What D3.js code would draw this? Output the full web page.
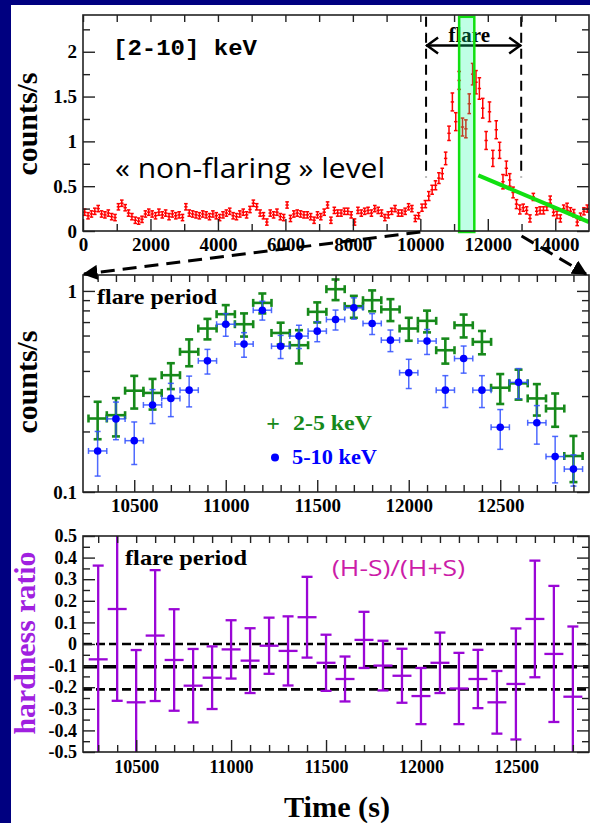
<!DOCTYPE html>
<html><head><meta charset="utf-8">
<script src="https://cdn.jsdelivr.net/npm/d3@7"></script>
<style>
html,body{margin:0;padding:0;background:#000080;}
svg{display:block;}
</style></head><body>
<svg id="c" width="590" height="823"></svg>
<script>
// ---------------- DATA ----------------
// Top panel: [2-10] keV light curve, 100 s bins starting at 0 s
const topBinStart = 0;
const topBinWidth = 100;
const topRate = [
  0.21,0.17,0.19,0.22,0.25,0.19,0.18,0.20,0.16,0.15,
  0.27,0.31,0.26,0.20,0.16,0.12,0.11,0.13,0.19,0.21,
  0.19,0.17,0.21,0.18,0.20,0.16,0.19,0.17,0.18,0.15,
  0.27,0.20,0.19,0.18,0.17,0.19,0.18,0.16,0.19,0.17,
  0.15,0.18,0.20,0.22,0.17,0.16,0.19,0.21,0.18,0.24,
  0.31,0.27,0.20,0.17,0.10,0.20,0.18,0.21,0.16,0.15,
  0.29,0.14,0.19,0.20,0.19,0.18,0.18,0.16,0.12,0.18,
  0.16,0.21,0.29,0.12,0.23,0.20,0.20,0.22,0.22,0.18,
  0.10,0.23,0.20,0.22,0.23,0.20,0.25,0.23,0.20,0.15,
  0.18,0.22,0.25,0.20,0.20,0.22,0.27,0.25,0.14,0.17,
  0.26,0.30,0.39,0.46,0.51,0.59,0.64,0.81,1.09,1.44,
  1.22,1.68,1.16,1.14,1.42,1.75,1.66,1.59,1.37,1.01,
  1.33,0.81,1.13,0.90,0.55,0.70,0.57,0.43,0.30,0.24,
  0.26,0.23,0.14,0.38,0.22,0.23,0.23,0.27,0.35,0.21,
  0.18,0.14,0.25,0.27,0.22,0.20,0.10,0.16,0.22,0.25
];
const topErr = [
  0.035,0.035,0.035,0.035,0.035,0.035,0.035,0.035,0.035,0.035,
  0.035,0.035,0.035,0.035,0.035,0.035,0.035,0.035,0.035,0.035,
  0.035,0.035,0.035,0.035,0.035,0.035,0.035,0.035,0.035,0.035,
  0.035,0.035,0.035,0.035,0.035,0.035,0.035,0.035,0.035,0.035,
  0.035,0.035,0.035,0.035,0.035,0.035,0.035,0.035,0.035,0.035,
  0.035,0.035,0.035,0.035,0.035,0.035,0.035,0.035,0.035,0.035,
  0.035,0.035,0.035,0.035,0.035,0.035,0.035,0.035,0.035,0.035,
  0.035,0.035,0.035,0.035,0.035,0.035,0.035,0.035,0.035,0.035,
  0.035,0.035,0.035,0.035,0.035,0.035,0.035,0.035,0.035,0.035,
  0.035,0.035,0.035,0.035,0.035,0.035,0.035,0.035,0.035,0.035,
  0.04,0.04,0.05,0.05,0.05,0.06,0.06,0.07,0.08,0.10,
  0.10,0.10,0.10,0.10,0.11,0.12,0.13,0.12,0.11,0.10,
  0.11,0.09,0.10,0.09,0.08,0.08,0.07,0.06,0.05,0.05,
  0.04,0.04,0.04,0.04,0.04,0.04,0.04,0.04,0.04,0.04,
  0.04,0.04,0.04,0.04,0.04,0.04,0.04,0.04,0.04,0.04
];
const topXTicks = [0,2000,4000,6000,8000,10000,12000,14000];
const topXMinor = [1000,3000,5000,7000,9000,11000,13000];
const topYTicks = [0,0.5,1,1.5,2];
const topYMinor = [0.25,0.75,1.25,1.75,2.25];
// annotations (data units)
const flareStart = 10170, flareEnd = 12990;
const boxStart = 11150, boxEnd = 11600;
const decayLine = [[11720,0.62],[15000,0.10]];

// Middle panel: flare period, two bands
const midTime = [10300,10400,10500,10600,10700,10800,10900,11000,11100,11200,11300,11400,11500,11600,11700,11800,11900,12000,12100,12200,12300,12400,12500,12600,12700,12800,12900];
const soft = [0.232,0.241,0.319,0.311,0.381,0.498,0.650,0.766,0.683,0.872,0.618,0.537,0.787,1.02,0.840,0.899,0.809,0.650,0.710,0.507,0.675,0.558,0.330,0.347,0.292,0.260,0.151];
const softErr = [0.049,0.052,0.059,0.054,0.056,0.076,0.076,0.084,0.090,0.099,0.077,0.101,0.090,0.120,0.105,0.107,0.101,0.085,0.088,0.072,0.088,0.074,0.056,0.059,0.052,0.049,0.039];
const hard = [0.160,0.231,0.180,0.271,0.292,0.321,0.449,0.683,0.544,0.802,0.531,0.596,0.631,0.721,0.824,0.689,0.569,0.392,0.563,0.321,0.461,0.321,0.210,0.351,0.221,0.150,0.130];
const hardErr = [0.040,0.049,0.043,0.052,0.055,0.056,0.063,0.088,0.076,0.086,0.070,0.079,0.072,0.082,0.100,0.082,0.070,0.065,0.080,0.058,0.071,0.058,0.047,0.060,0.048,0.039,0.023];
const midXTicks = [10500,11000,11500,12000,12500];
const midXMinor = [10300,10400,10600,10700,10800,10900,11100,11200,11300,11400,11600,11700,11800,11900,12100,12200,12300,12400,12600,12700,12800,12900];
const midYTicks = [0.1,1];
const midYMinor = [0.2,0.3,0.4,0.5,0.6,0.7,0.8,0.9];

// Bottom panel: hardness ratio
const hrTime = [10300,10400,10500,10600,10700,10800,10900,11000,11100,11200,11300,11400,11500,11600,11700,11800,11900,12000,12100,12200,12300,12400,12500,12600,12700,12800];
const hr = [-0.071,0.162,-0.270,0.039,-0.074,-0.193,-0.156,-0.025,-0.077,-0.008,-0.032,0.124,-0.087,-0.162,0.019,-0.100,-0.147,-0.241,-0.087,-0.206,-0.162,-0.270,-0.185,0.116,-0.046,-0.244];
const hrErr = [0.434,0.425,0.242,0.303,0.235,0.170,0.145,0.135,0.150,0.130,0.160,0.187,0.130,0.104,0.130,0.115,0.125,0.130,0.140,0.165,0.135,0.145,0.257,0.270,0.315,0.325];
const hrLevels = [0, -0.105, -0.21];
const botXTicks = [10500,11000,11500,12000,12500];
const botXMinor = [10300,10400,10600,10700,10800,10900,11100,11200,11300,11400,11600,11700,11800,11900,12100,12200,12300,12400,12600,12700,12800];
const botYTicks = [-0.5,-0.4,-0.3,-0.2,-0.1,0,0.1,0.2,0.3,0.4,0.5];
const botYMinor = [-0.45,-0.35,-0.25,-0.15,-0.05,0.05,0.15,0.25,0.35,0.45];

// ---------------- DRAW ----------------
const svg = d3.select("#c");
const SERIF = "'Liberation Serif','Times New Roman',serif";
svg.append("rect").attr("width",590).attr("height",823).attr("fill","#000080");
svg.append("rect").attr("x",11).attr("y",5).attr("width",579).attr("height",818).attr("fill","#ffffff");

const defs = svg.append("defs");
function clip(id, x0,y0,x1,y1){
  defs.append("clipPath").attr("id",id).append("rect")
    .attr("x",x0).attr("y",y0).attr("width",x1-x0).attr("height",y1-y0);
}
defs.append("marker").attr("id","ah").attr("viewBox","0 0 10 10")
  .attr("refX",9).attr("refY",5).attr("markerWidth",5).attr("markerHeight",5)
  .attr("markerUnits","strokeWidth").attr("orient","auto")
  .append("path").attr("d","M0,0 L10,5 L0,10 z").attr("fill","#000");

function axes(g, xs, ys, p, o){
  const styleAx = sel => {
    sel.select(".domain").remove();
    sel.selectAll(".tick line").attr("stroke","#222").attr("stroke-width",1.4);
    sel.selectAll(".tick text").attr("font-family",SERIF).attr("font-weight","bold")
      .attr("font-size",o.fs||19).attr("fill","#000");
  };
  const M=12, m=7;
  g.append("g").attr("transform",`translate(0,${p.y1})`)
    .call(d3.axisBottom(xs).tickValues(o.xT).tickSizeInner(-M).tickSizeOuter(0).tickPadding(o.xPad||7).tickFormat(o.xF)).call(styleAx);
  g.append("g").attr("transform",`translate(0,${p.y1})`)
    .call(d3.axisBottom(xs).tickValues(o.xm).tickSizeInner(-m).tickSizeOuter(0).tickFormat("")).call(styleAx);
  g.append("g").attr("transform",`translate(0,${p.y0})`)
    .call(d3.axisTop(xs).tickValues(o.xT.concat(o.xm)).tickSizeInner(-m).tickSizeOuter(0).tickFormat("")).call(styleAx);
  g.append("g").attr("transform",`translate(${p.x0},0)`)
    .call(d3.axisLeft(ys).tickValues(o.yT).tickSizeInner(-M).tickSizeOuter(0).tickPadding(6).tickFormat(o.yF)).call(styleAx);
  g.append("g").attr("transform",`translate(${p.x0},0)`)
    .call(d3.axisLeft(ys).tickValues(o.ym).tickSizeInner(-m).tickSizeOuter(0).tickFormat("")).call(styleAx);
  g.append("g").attr("transform",`translate(${p.x1},0)`)
    .call(d3.axisRight(ys).tickValues(o.yT).tickSizeInner(-M).tickSizeOuter(0).tickFormat("")).call(styleAx);
  g.append("g").attr("transform",`translate(${p.x1},0)`)
    .call(d3.axisRight(ys).tickValues(o.ym).tickSizeInner(-m).tickSizeOuter(0).tickFormat("")).call(styleAx);
  g.append("rect").attr("x",p.x0).attr("y",p.y0).attr("width",p.x1-p.x0).attr("height",p.y1-p.y0)
    .attr("fill","none").attr("stroke","#222").attr("stroke-width",1.6);
}

function errbars(g, data, xs, ys, st){
  const gg = g.selectAll(null).data(data).enter().append("g")
    .attr("stroke",st.color).attr("stroke-width",st.w).attr("stroke-opacity",st.op||1);
  gg.append("line").attr("x1",d=>xs(d.t)).attr("x2",d=>xs(d.t))
    .attr("y1",d=>ys(d.lo)).attr("y2",d=>ys(d.hi));
  gg.append("line").attr("x1",d=>xs(d.t-d.hw)).attr("x2",d=>xs(d.t+d.hw))
    .attr("y1",d=>ys(d.v)).attr("y2",d=>ys(d.v));
  if(st.cw){
    gg.append("line").attr("x1",d=>xs(d.t)-st.cw).attr("x2",d=>xs(d.t)+st.cw).attr("y1",d=>ys(d.lo)).attr("y2",d=>ys(d.lo));
    gg.append("line").attr("x1",d=>xs(d.t)-st.cw).attr("x2",d=>xs(d.t)+st.cw).attr("y1",d=>ys(d.hi)).attr("y2",d=>ys(d.hi));
  }
  if(st.ch){
    gg.append("line").attr("x1",d=>xs(d.t-d.hw)).attr("x2",d=>xs(d.t-d.hw)).attr("y1",d=>ys(d.v)-st.ch).attr("y2",d=>ys(d.v)+st.ch);
    gg.append("line").attr("x1",d=>xs(d.t+d.hw)).attr("x2",d=>xs(d.t+d.hw)).attr("y1",d=>ys(d.v)-st.ch).attr("y2",d=>ys(d.v)+st.ch);
  }
  return gg;
}

// ===== TOP PANEL =====
const P1 = {x0:83, x1:589, y0:15, y1:231};
const x1s = d3.scaleLinear().domain([0,15000]).range([P1.x0,P1.x1]);
const y1s = d3.scaleLinear().domain([0,2.41]).range([P1.y1,P1.y0]);
clip("c1",P1.x0,P1.y0,P1.x1,P1.y1);
const g1 = svg.append("g");
const topData = topRate.map((v,i)=>({t:topBinStart+topBinWidth*(i+0.5), v, lo:v-topErr[i], hi:v+topErr[i], hw:topBinWidth/2}));
const gd1 = g1.append("g").attr("clip-path","url(#c1)");
errbars(gd1, topData, x1s, y1s, {color:"#ff0000", w:1.5, cw:1.8});

// text
g1.append("text").attr("x",113).attr("y",55).attr("font-family","'Liberation Mono','Courier New',monospace")
  .attr("font-weight","bold").attr("font-size",22).attr("textLength",144).attr("lengthAdjust","spacingAndGlyphs").text("[2-10] keV");
g1.append("text").attr("x",115).attr("y",178).attr("font-family","'Open Sans','DejaVu Sans',sans-serif")
  .attr("font-size",27).attr("textLength",270).attr("lengthAdjust","spacingAndGlyphs").text("« non-flaring » level");

// flare markers
const ann = g1.append("g");
[flareStart, flareEnd].forEach(t=>{
  ann.append("line").attr("x1",x1s(t)).attr("x2",x1s(t)).attr("y1",y1s(2.39)).attr("y2",y1s(0.60))
    .attr("stroke","#000").attr("stroke-width",2).attr("stroke-dasharray","10,6");
});
const yA = y1s(2.07);
ann.append("line").attr("x1",x1s(flareStart)).attr("x2",x1s(flareEnd)).attr("y1",yA).attr("y2",yA)
  .attr("stroke","#000").attr("stroke-width",2.5);
ann.append("path").attr("d",`M${x1s(flareStart)+12},${yA-8} L${x1s(flareStart)+1},${yA} L${x1s(flareStart)+12},${yA+8}`)
  .attr("fill","none").attr("stroke","#000").attr("stroke-width",2.5);
ann.append("path").attr("d",`M${x1s(flareEnd)-12},${yA-8} L${x1s(flareEnd)-1},${yA} L${x1s(flareEnd)-12},${yA+8}`)
  .attr("fill","none").attr("stroke","#000").attr("stroke-width",2.5);
ann.append("text").attr("x",x1s(11450)).attr("y",y1s(2.11)).attr("text-anchor","middle")
  .attr("font-family",SERIF).attr("font-weight","bold").attr("font-size",21).text("flare");
// green box
ann.append("rect").attr("x",x1s(boxStart)).attr("y",y1s(2.39)).attr("width",x1s(boxEnd)-x1s(boxStart))
  .attr("height",y1s(-0.011)-y1s(2.39)).attr("fill","#00ff96").attr("fill-opacity",0.25)
  .attr("stroke","#11e011").attr("stroke-width",2.5);
// decay line
g1.append("g").attr("clip-path","url(#c1)").append("line")
  .attr("x1",x1s(decayLine[0][0])).attr("y1",y1s(decayLine[0][1]))
  .attr("x2",x1s(decayLine[1][0])).attr("y2",y1s(decayLine[1][1]))
  .attr("stroke","#11e011").attr("stroke-width",4);

axes(g1, x1s, y1s, P1, {xT:topXTicks, xm:topXMinor, yT:topYTicks, ym:topYMinor,
  xF:d3.format("d"), yF:d=>String(d), xPad:7});

g1.append("text").attr("transform",`translate(37,${(P1.y0+P1.y1)/2+1}) rotate(-90)`).attr("text-anchor","middle")
  .attr("font-family",SERIF).attr("font-weight","bold").attr("font-size",29).attr("textLength",103)
  .attr("lengthAdjust","spacingAndGlyphs").text("counts/s");

// ===== MIDDLE PANEL =====
const P2 = {x0:83, x1:589, y0:275, y1:492};
const x2s = d3.scaleLinear().domain([10220,12985]).range([P2.x0,P2.x1]);
const y2s = d3.scaleLog().domain([0.1,1.2]).range([P2.y1,P2.y0]);
clip("c2",P2.x0,P2.y0,P2.x1,P2.y1);
const g2 = svg.append("g");
const gd2 = g2.append("g").attr("clip-path","url(#c2)");
const softData = midTime.map((t,i)=>({t, v:soft[i], lo:soft[i]-softErr[i], hi:soft[i]+softErr[i], hw:50}));
const hardData = midTime.map((t,i)=>({t, v:hard[i], lo:hard[i]-hardErr[i], hi:hard[i]+hardErr[i], hw:50}));
errbars(gd2, softData, x2s, y2s, {color:"#16891a", w:2.6, cw:4, ch:4});
errbars(gd2, hardData, x2s, y2s, {color:"#3050ff", w:1.5, cw:3, ch:3, op:0.85});
gd2.selectAll(null).data(hardData).enter().append("circle")
  .attr("cx",d=>x2s(d.t)).attr("cy",d=>y2s(d.v)).attr("r",3.8).attr("fill","#0000ff");

axes(g2, x2s, y2s, P2, {xT:midXTicks, xm:midXMinor, yT:midYTicks, ym:midYMinor,
  xF:d3.format("d"), yF:d=>String(d), xPad:7});

g2.append("text").attr("x",97).attr("y",304).attr("font-family",SERIF).attr("font-weight","bold")
  .attr("font-size",21).attr("textLength",120).attr("lengthAdjust","spacingAndGlyphs").text("flare period");
// legend
g2.append("text").attr("x",273).attr("y",431).attr("text-anchor","middle").attr("font-family",SERIF)
  .attr("font-weight","bold").attr("font-size",24).attr("fill","#16891a").text("+");
g2.append("text").attr("x",293).attr("y",430).attr("font-family",SERIF).attr("font-weight","bold")
  .attr("font-size",21).attr("fill","#16891a").attr("textLength",79).attr("lengthAdjust","spacingAndGlyphs").text("2-5 keV");
g2.append("circle").attr("cx",275).attr("cy",457.5).attr("r",4).attr("fill","#0000ff");
g2.append("text").attr("x",292).attr("y",464).attr("font-family",SERIF).attr("font-weight","bold")
  .attr("font-size",21).attr("fill","#0000ff").attr("textLength",85).attr("lengthAdjust","spacingAndGlyphs").text("5-10 keV");

g2.append("text").attr("transform",`translate(37,382) rotate(-90)`).attr("text-anchor","middle")
  .attr("font-family",SERIF).attr("font-weight","bold").attr("font-size",29).attr("textLength",103)
  .attr("lengthAdjust","spacingAndGlyphs").text("counts/s");

// connecting dashed arrows
svg.append("line").attr("x1",x1s(10000)).attr("y1",P1.y1+1).attr("x2",P2.x0+1).attr("y2",P2.y0-1)
  .attr("stroke","#000").attr("stroke-width",3).attr("stroke-dasharray","14,8").attr("marker-end","url(#ah)");
svg.append("line").attr("x1",x1s(13000)).attr("y1",P1.y1+5).attr("x2",P2.x1-3).attr("y2",P2.y0-1)
  .attr("stroke","#000").attr("stroke-width",3).attr("stroke-dasharray","14,8").attr("marker-end","url(#ah)");

// ===== BOTTOM PANEL =====
const P3 = {x0:83, x1:589, y0:536, y1:752};
const x3s = d3.scaleLinear().domain([10220,12885]).range([P3.x0,P3.x1]);
const y3s = d3.scaleLinear().domain([-0.5,0.5]).range([P3.y1,P3.y0]);
clip("c3",P3.x0,P3.y0,P3.x1,P3.y1);
const g3 = svg.append("g");
const gd3 = g3.append("g").attr("clip-path","url(#c3)");
const dashes = ["9,4","14,6","9,4"];
const widths = [2.6,3.4,2.6];
hrLevels.forEach((lv,i)=>{
  gd3.append("line").attr("x1",P3.x0).attr("x2",P3.x1).attr("y1",y3s(lv)).attr("y2",y3s(lv))
    .attr("stroke","#000").attr("stroke-width",widths[i]).attr("stroke-dasharray",dashes[i]);
});
const hrData = hrTime.map((t,i)=>({t, v:hr[i], lo:hr[i]-hrErr[i], hi:hr[i]+hrErr[i], hw:50}));
errbars(gd3, hrData, x3s, y3s, {color:"#9a06d6", w:2.3, cw:5.5});

axes(g3, x3s, y3s, P3, {xT:botXTicks, xm:botXMinor, yT:botYTicks, ym:botYMinor,
  xF:d3.format("d"), yF:d=>d===0?"0":d.toFixed(1), xPad:8, fs:18});

g3.append("text").attr("x",125).attr("y",565).attr("font-family",SERIF).attr("font-weight","bold")
  .attr("font-size",21).attr("textLength",122).attr("lengthAdjust","spacingAndGlyphs").text("flare period");
g3.append("text").attr("x",332).attr("y",576).attr("font-family","'Open Sans','DejaVu Sans',sans-serif")
  .attr("font-size",22).attr("fill","#cc1ca8").attr("textLength",133).attr("lengthAdjust","spacingAndGlyphs").text("(H-S)/(H+S)");
g3.append("text").attr("transform",`translate(35,643) rotate(-90)`).attr("text-anchor","middle")
  .attr("font-family",SERIF).attr("font-weight","bold").attr("font-size",30).attr("fill","#a020e0")
  .attr("textLength",183).attr("lengthAdjust","spacingAndGlyphs").text("hardness ratio");

svg.append("text").attr("x",337).attr("y",817).attr("text-anchor","middle").attr("font-family",SERIF)
  .attr("font-weight","bold").attr("font-size",30).attr("textLength",106).attr("lengthAdjust","spacingAndGlyphs").text("Time (s)");
</script>
</body></html>
